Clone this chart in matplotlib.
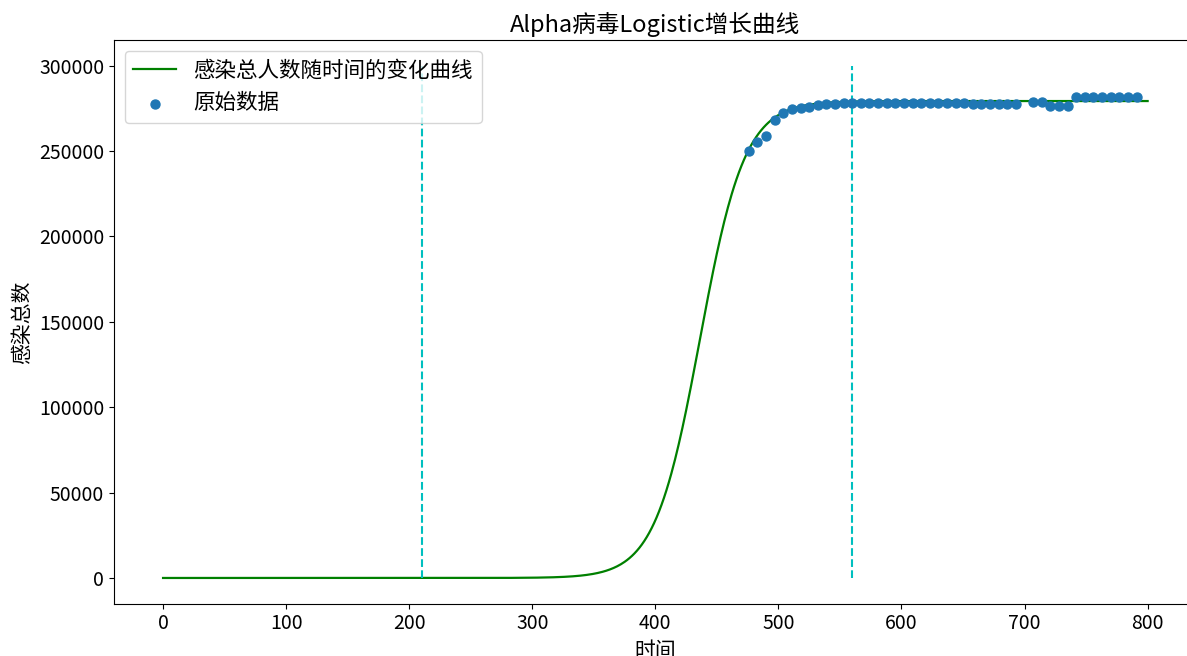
import numpy as np
import matplotlib
matplotlib.use("Agg")
import matplotlib.pyplot as plt

plt.rcParams['font.family'] = ['Noto Sans CJK SC', 'DejaVu Sans']
plt.rcParams['axes.unicode_minus'] = False

# Observed data (day index, cumulative infections)
days = [476, 483, 490, 497, 504, 511, 518, 525, 532, 539, 546, 553, 560,
        567, 574, 581, 588, 595, 602, 609, 616, 623, 630, 637, 644, 651,
        658, 665, 672, 679, 686, 693,
        707, 714, 721, 728, 735,
        742, 749, 756, 763, 770, 777, 784, 791]
cases = [249900, 255200, 258900, 268300, 272400, 274800, 275500, 276100,
         276700, 277300, 277700, 277900, 278000,
         278000, 278000, 278000, 278000, 278000, 278000, 278000, 278000,
         278000, 278000, 277900, 277900, 277900, 277800, 277800, 277800,
         277800, 277800, 277800,
         278800, 278800, 276500, 276500, 276500,
         281700, 281700, 281700, 281700, 281700, 281700, 281700, 281700]

# Fitted logistic parameters
K = 279300
r = 0.0548
t0 = 436.2
t_start, t_end = 0, 800

# Reference vertical markers
vline_x = [210, 560]
vline_top = 300000

t = np.linspace(t_start, t_end, 801)
fit = K / (1 + np.exp(-r * (t - t0)))

fig = plt.figure(figsize=(11.87, 6.56), dpi=100)
ax = fig.add_axes([0.0959, 0.0799, 0.9124, 0.859])

ax.plot(t, fit, color='green', linewidth=1.6, label='感染总人数随时间的变化曲线')
ax.scatter(days, cases, s=42, color='#1f77b4', label='原始数据', zorder=3)
for xv in vline_x:
    ax.vlines(xv, 0, vline_top, colors='c', linestyles='--', linewidth=1.5)

ax.set_title('Alpha病毒Logistic增长曲线', fontsize=17)
ax.set_xlabel('时间', fontsize=15)
ax.set_ylabel('感染总数', fontsize=15)
ax.tick_params(labelsize=14)
ax.set_xticks([0, 100, 200, 300, 400, 500, 600, 700, 800])
ax.set_yticks([0, 50000, 100000, 150000, 200000, 250000, 300000])
ax.legend(loc='upper left', fontsize=15.5)

fig.savefig('out.png', dpi=100)
